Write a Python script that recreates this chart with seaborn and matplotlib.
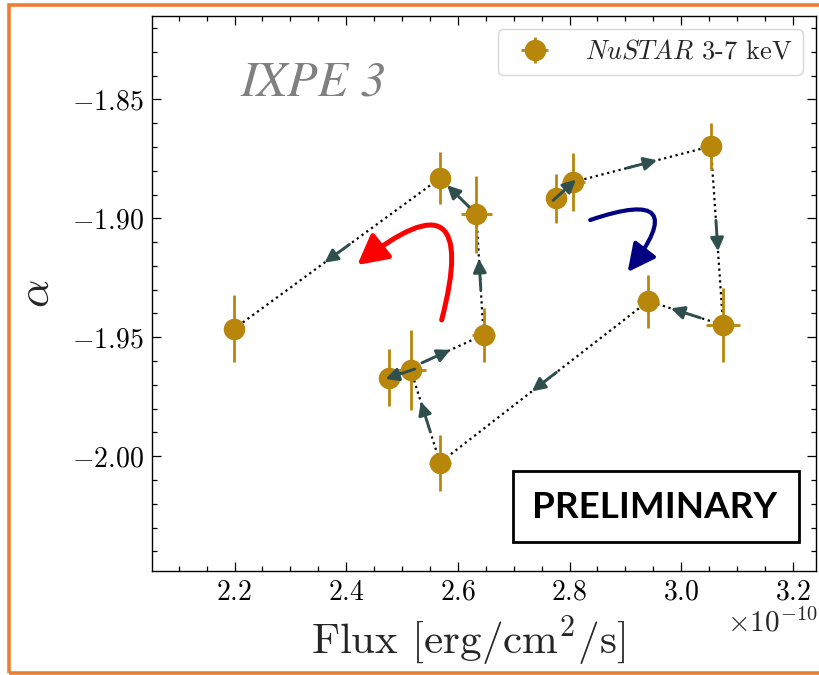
import numpy as np
import matplotlib
matplotlib.use("Agg")
import matplotlib.pyplot as plt
from matplotlib.patches import Rectangle
import seaborn as sns

# NuSTAR 3-7 keV track, in time order
flux = [2.775, 2.807, 3.053, 3.075, 2.941, 2.568, 2.516, 2.477, 2.646, 2.633, 2.568, 2.199]  # 1e-10 erg/cm2/s
flux_err = [0.018, 0.020, 0.019, 0.031, 0.020, 0.019, 0.027, 0.018, 0.020, 0.028, 0.018, 0.018]
alpha = [-1.8915, -1.8847, -1.8697, -1.9449, -1.9348, -2.0027, -1.9639, -1.9670, -1.9490, -1.8982, -1.8831, -1.9465]
alpha_err = [0.0103, 0.0122, 0.0099, 0.0155, 0.0111, 0.0118, 0.0168, 0.0120, 0.0113, 0.0162, 0.0110, 0.0141]
flux_scale = 1e-10

sns.set_theme(style="ticks")
plt.rcParams.update({
    "font.family": "serif",
    "font.serif": ["cmr10"],
    "mathtext.fontset": "cm",
    "axes.formatter.use_mathtext": True,
    "axes.unicode_minus": True,
    "xtick.direction": "in",
    "ytick.direction": "in",
    "xtick.top": True,
    "ytick.right": True,
    "xtick.minor.visible": True,
    "ytick.minor.visible": True,
    "xtick.major.size": 6.5,
    "ytick.major.size": 6.5,
    "xtick.minor.size": 3.5,
    "ytick.minor.size": 3.5,
    "xtick.major.width": 0.9,
    "ytick.major.width": 0.9,
    "xtick.minor.width": 0.9,
    "ytick.minor.width": 0.9,
    "axes.linewidth": 1.0,
    "axes.edgecolor": "black",
    "xtick.color": "black",
    "ytick.color": "black",
})

fig = plt.figure(figsize=(8.2, 6.75), dpi=100)
fig.subplots_adjust(left=0.1854, right=0.995, bottom=0.154, top=0.976)
ax = fig.add_subplot(111)

x = np.array(flux) * flux_scale
xe = np.array(flux_err) * flux_scale
y = np.array(alpha)
ye = np.array(alpha_err)

# dotted path joining consecutive observations
sns.lineplot(x=x, y=y, sort=False, estimator=None, ax=ax, color="black",
             linestyle=":", linewidth=1.6, zorder=1)
ax.errorbar(x, y, xerr=xe, yerr=ye, fmt="o", color="darkgoldenrod",
            ms=14.5, elinewidth=2, capsize=0, zorder=2,
            label=r"$NuSTAR$ 3-7 keV")

ax.set_xlim(2.0523 * flux_scale, 3.2412 * flux_scale)
ax.set_ylim(-2.0483, -1.815)
ax.set_xticks(np.array([2.2, 2.4, 2.6, 2.8, 3.0, 3.2]) * flux_scale)
ax.set_yticks([-2.00, -1.95, -1.90, -1.85])
ax.xaxis.set_minor_locator(matplotlib.ticker.MultipleLocator(0.05 * flux_scale))
ax.yaxis.set_minor_locator(matplotlib.ticker.MultipleLocator(0.01))
ax.tick_params(axis="both", which="major", labelsize=20, pad=6)
ax.set_xlabel(r"Flux [erg/cm$^2$/s]", fontsize=31)
ax.xaxis.set_label_coords(0.476, -0.077, transform=ax.transAxes)
ax.set_ylabel(r"$\alpha$", fontsize=32, labelpad=10)

fig.canvas.draw()

# scale factor of the flux axis, set under the right end of the tick labels
ax.xaxis.get_offset_text().set_visible(False)
ax.text(1.003, -0.066, ax.xaxis.get_major_formatter().get_offset(),
        transform=ax.transAxes, ha="right", va="top", fontsize=21)

# short direction arrows at the middle of each step
disp = ax.transData.transform(np.column_stack([x, y]))
inv = ax.transData.inverted()
half = 15.5
for i in range(len(x) - 1):
    p0, p1 = disp[i], disp[i + 1]
    mid = 0.5 * (p0 + p1)
    u = (p1 - p0) / np.hypot(*(p1 - p0))
    a = inv.transform(mid - u * half)
    b = inv.transform(mid + u * half)
    ax.annotate("", xy=b, xytext=a, xycoords="data", textcoords="data",
                arrowprops=dict(arrowstyle="-|>,head_length=0.6,head_width=0.3",
                                color="darkslategray", lw=2.1, mutation_scale=13,
                                shrinkA=0, shrinkB=0), zorder=3)

# curved arrows marking the sense of rotation
ax.annotate("", xy=(2.420 * flux_scale, -1.9196), xytext=(2.571 * flux_scale, -1.9427),
            arrowprops=dict(arrowstyle="-|>,head_length=0.6,head_width=0.32",
                            connectionstyle="arc3,rad=1.5", color="red", lw=3.6,
                            mutation_scale=30, shrinkA=0, shrinkB=0), zorder=4)
ax.annotate("", xy=(2.904 * flux_scale, -1.9226), xytext=(2.837 * flux_scale, -1.9007),
            arrowprops=dict(arrowstyle="-|>,head_length=0.6,head_width=0.3",
                            connectionstyle="arc3,rad=-1.65", color="navy", lw=3.0,
                            mutation_scale=28, shrinkA=0, shrinkB=0), zorder=4)

ax.text(0.243, 0.879, "IXPE 3", transform=ax.transAxes, ha="center", va="center",
        fontsize=36, color="gray", family="STIXGeneral", style="italic")

ax.add_patch(Rectangle((0.543, 0.052), 0.431, 0.128, transform=ax.transAxes,
                       facecolor="white", edgecolor="black", lw=2.0, zorder=5))
ax.text(0.757, 0.115, "PRELIMINARY", transform=ax.transAxes, ha="center", va="center",
        fontsize=26.5, fontweight="bold", family="Lato", color="black", zorder=6)

ax.legend(loc="upper right", fontsize=19, frameon=True, fancybox=True,
          borderaxespad=0.5, handletextpad=0.9)

# orange frame around the figure
fig.patches.append(Rectangle((8.5 / 820, 2.0 / 675), 1.2, (668.0) / 675,
                             transform=fig.transFigure, fill=False,
                             edgecolor="#ED7D31", lw=2.6, clip_on=False))

fig.savefig("out.png", dpi=100)
